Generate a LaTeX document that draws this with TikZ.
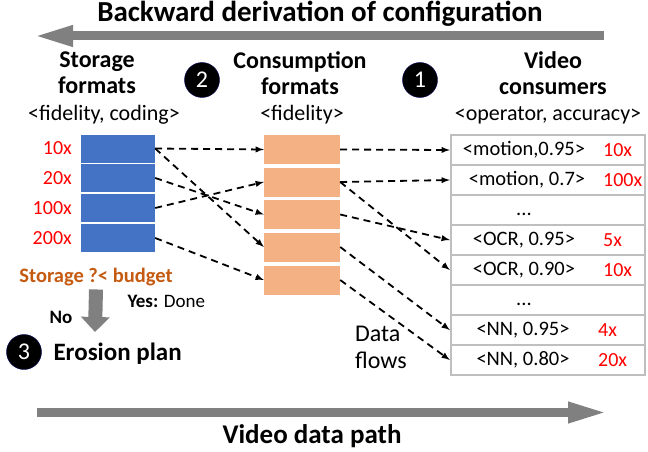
\documentclass[tikz,border=0pt]{standalone}
\usepackage{fontspec}
\setmainfont{Carlito}
\usetikzlibrary{arrows.meta}

\definecolor{storblue}{HTML}{4472C4}
\definecolor{consorange}{HTML}{F4B183}
\definecolor{rowgray}{HTML}{BFBFBF}
\definecolor{fatgray}{HTML}{808080}
\definecolor{budgetbrown}{HTML}{C55A11}
\newcommand{\pxfont}[1]{\fontsize{#1}{#1}\selectfont}

\begin{document}
\begin{tikzpicture}[x=1pt, y=-1pt,
  stor/.style={fill=storblue, minimum width=74pt, minimum height=28pt, inner sep=0pt},
  cons/.style={fill=consorange, minimum width=76pt, minimum height=29pt, inner sep=0pt},
  row/.style={draw=rowgray, line width=2.5pt, minimum width=194pt, minimum height=30pt, inner sep=0pt},
  num/.style={draw=blue!35!black, fill=black, shape=circle, minimum size=35pt, inner sep=0pt, text=white, font=\pxfont{24}},
  head/.style={align=center, font=\bfseries\fontsize{24}{26}\selectfont},
  sub/.style={font=\pxfont{22}},
  cell/.style={font=\pxfont{20.5}},
  times/.style={text=red, font=\pxfont{20}, anchor=west, inner sep=0pt},
  flow/.style={-latex, line width=1.8pt, dash pattern=on 7pt off 5pt},
  fat/.style={draw=fatgray, line width=9pt, -{Triangle[length=40pt, width=19pt]}}]

\useasboundingbox (0,0) rectangle (648,452);

% backward derivation
\node[font=\bfseries\pxfont{29}] (title) at (320,14) {Backward derivation of configuration};
\coordinate (backstart) at (604,36);
\coordinate (backend) at (33,36);
\draw[fat] (backstart) -- (backend);

% column heads
\node[head] (storhead) at (97,73) {Storage\\formats};
\node[head] (conshead) at (300,73) {Consumption\\formats};
\node[head] (vidhead) at (553,73) {Video\\consumers};
\node[sub] (storsub) at (104,115) {<fidelity, coding>};
\node[sub] (conssub) at (302,115) {<fidelity>};
\node[sub] (vidsub) at (548,115) {<operator, accuracy>};
\node[num] (two) at (202,80) {2};
\node[num] (one) at (420,80) {1};

% storage formats
\node[stor] (s1) at (118,148.5) {};
\node[stor] (s2) at (118,178) {};
\node[stor] (s3) at (118,208) {};
\node[stor] (s4) at (118,238) {};
\node[times, anchor=east] (t1) at (72,148.5) {10x};
\node[times, anchor=east] (t2) at (72,178) {20x};
\node[times, anchor=east] (t3) at (72,208) {100x};
\node[times, anchor=east] (t4) at (72,238) {200x};

% consumption formats
\node[cons] (k1) at (302,149.5) {};
\node[cons] (k2) at (302,182) {};
\node[cons] (k3) at (302,214.5) {};
\node[cons] (k4) at (302,247) {};
\node[cons] (k5) at (302,280) {};

% video consumers
\node[row] (r1) at (548,150) {};
\node[row] (r2) at (548,180) {};
\node[row] (r3) at (548,210) {};
\node[row] (r4) at (548,240) {};
\node[row] (r5) at (548,270) {};
\node[row] (r6) at (548,300) {};
\node[row] (r7) at (548,330) {};
\node[row] (r8) at (548,360) {};
\node[cell] (c1) at (524,150) {<motion,0.95>};
\node[cell] (c2) at (527,180) {<motion, 0.7>};
\node[cell] (c3) at (524,214) {...};
\node[cell] (c4) at (524,240) {<OCR, 0.95>};
\node[cell] (c5) at (524,270) {<OCR, 0.90>};
\node[cell] (c6) at (524,304) {...};
\node[cell] (c7) at (523,330) {<NN, 0.95>};
\node[cell] (c8) at (523,360) {<NN, 0.80>};
\node[times] (x1) at (603,150) {10x};
\node[times] (x2) at (603,180) {100x};
\node[times] (x4) at (603,240) {5x};
\node[times] (x5) at (603,270) {10x};
\node[times] (x7) at (598,330) {4x};
\node[times] (x8) at (598,360) {20x};

% data flows
\draw[flow] (s1.east) -- (k1.west);
\draw[flow] (s1.east) -- (k4.west);
\draw[flow] (s2.east) -- (k3.west);
\draw[flow] (s3.east) -- (k2.west);
\draw[flow] (s4.east) -- (k5.west);
\draw[flow] (k1.east) -- (r1.west);
\draw[flow] (k2.east) -- (r2.west);
\draw[flow] (k2.east) -- (r5.west);
\draw[flow] (k3.east) -- (r4.west);
\draw[flow] (k4.east) -- (r7.west);
\draw[flow] (k5.east) -- (r8.west);
\node[font=\fontsize{24}{27}\selectfont, align=left] (flows) at (381,347) {Data\\flows};

% budget check
\node[text=budgetbrown, font=\bfseries\pxfont{20.5}] (budget) at (96,277) {Storage ?< budget};
\coordinate (downtip) at (95,332);
\draw[fat, line width=14pt, -{Triangle[length=15pt, width=28pt]}] (budget.south) -- (downtip);
\node[font=\pxfont{19}, anchor=west] (yes) at (124,301) {\textbf{Yes:} Done};
\node[font=\bfseries\pxfont{19}] (no) at (61,317) {No};
\node[num] (three) at (24,352) {3};
\node[font=\bfseries\pxfont{25}, anchor=west] (erosion) at (50,354) {Erosion plan};

% video data path
\coordinate (pathstart) at (37,412.5);
\coordinate (pathend) at (608,412.5);
\draw[fat] (pathstart) -- (pathend);
\node[font=\bfseries\pxfont{27}] (pathlabel) at (312,436) {Video data path};
\end{tikzpicture}
\end{document}
